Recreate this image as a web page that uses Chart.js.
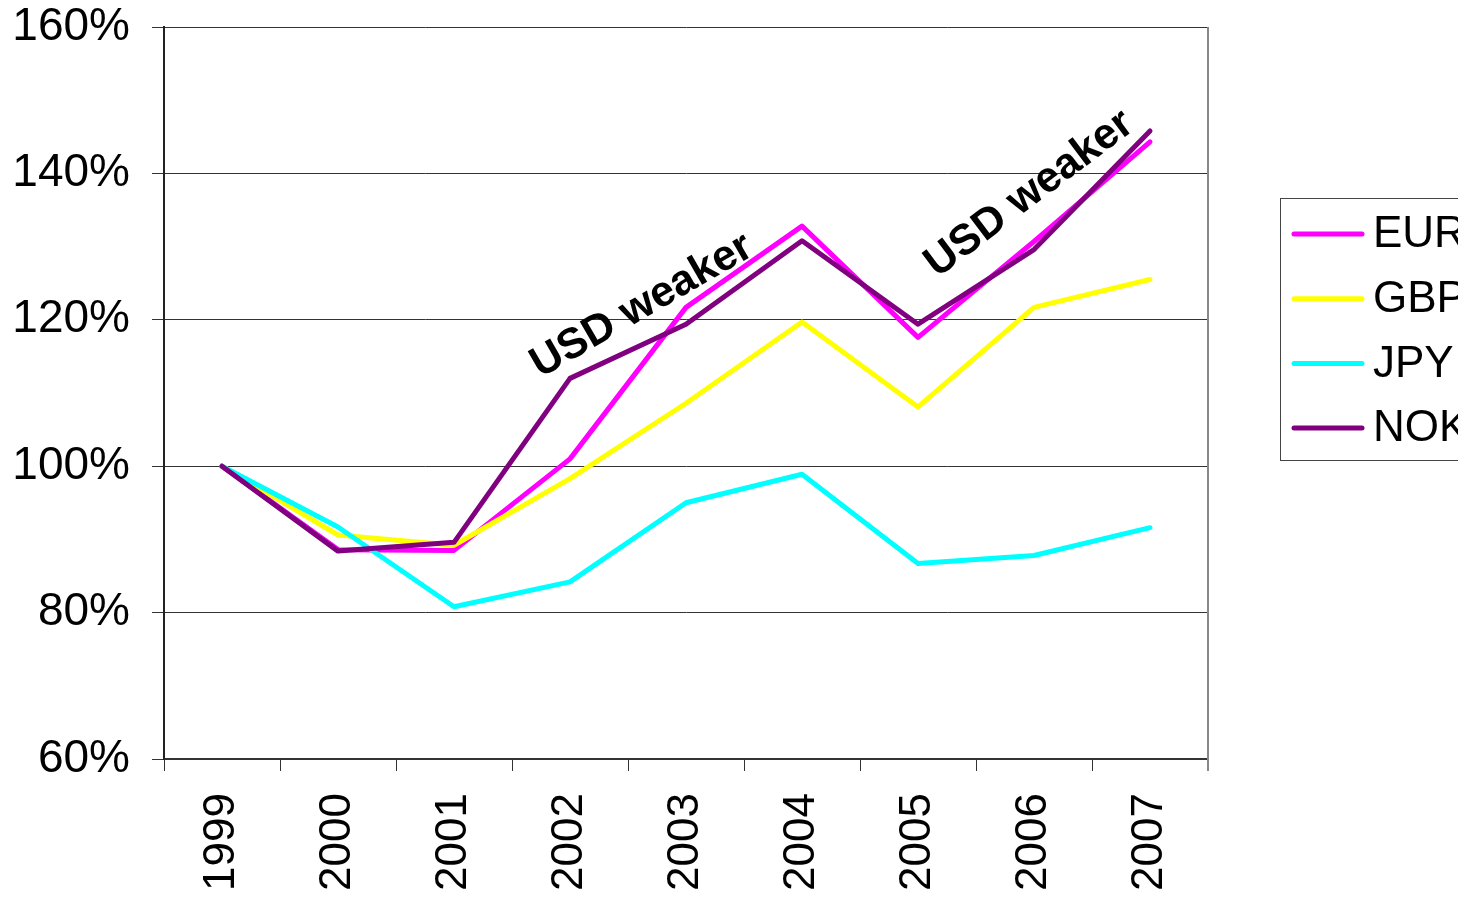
<!DOCTYPE html>
<html>
<head>
<meta charset="utf-8">
<script src="https://cdn.jsdelivr.net/npm/chart.js@4.4.1/dist/chart.umd.min.js"></script>
<style>
  html, body { margin: 0; padding: 0; background: #fff; }
  #wrap { width: 1458px; height: 897px; position: relative; }
</style>
</head>
<body>
<div id="wrap"><canvas id="fxChart"></canvas></div>
<script>
/* currency index vs USD, 1999 = 100% */
const years = ['1999', '2000', '2001', '2002', '2003', '2004', '2005', '2006', '2007'];
const eur = [100, 88.6, 88.5, 101.0, 121.7, 132.8, 117.6, 130.7, 144.3];
const gbp = [100, 90.6, 89.2, 98.3, 108.6, 119.7, 108.1, 121.7, 125.5];
const jpy = [100, 91.7, 80.8, 84.2, 95.0, 98.9, 86.7, 87.8, 91.6];
const nok = [100, 88.4, 89.6, 112.0, 119.4, 130.8, 119.4, 129.6, 145.8];
const yTicks = [60, 80, 100, 120, 140, 160];

// callouts: [text, category position, value, angle in degrees]
const notes = [
    ['USD weaker', 3.62, 121.9, -30],
    ['USD weaker', 6.96, 137.2, -37],
];

const FONT = '"Liberation Sans", Arial, sans-serif';

/* ── callout text plugin ── */
const notesPlugin = {
    id: 'notes',
    afterDatasetsDraw(chart) {
        const { ctx, scales: { x, y } } = chart;
        ctx.save();
        ctx.font = 'bold 43px ' + FONT;
        ctx.fillStyle = '#000';
        ctx.textAlign = 'center';
        ctx.textBaseline = 'middle';
        notes.forEach(([text, xi, v, deg]) => {
            ctx.save();
            ctx.translate(x.getPixelForValue(xi), y.getPixelForValue(v));
            ctx.rotate(deg * Math.PI / 180);
            ctx.fillText(text, 0, 0);
            ctx.restore();
        });
        ctx.restore();
    }
};

/* ── frame right edge + boxed legend ── */
const framePlugin = {
    id: 'frame',
    afterDraw(chart) {
        const { ctx, chartArea: a } = chart;
        ctx.save();
        ctx.strokeStyle = '#888';
        ctx.lineWidth = 2;
        ctx.beginPath();
        ctx.moveTo(a.right, a.top);
        ctx.lineTo(a.right, a.bottom + 12);
        ctx.stroke();

        // legend box
        const bx = 1280, by = 198, bh = 262;
        ctx.strokeStyle = '#444';
        ctx.lineWidth = 1;
        ctx.strokeRect(bx + 0.5, by + 0.5, 300, bh);
        ctx.font = '44px ' + FONT;
        ctx.textBaseline = 'middle';
        ctx.textAlign = 'left';
        chart.data.datasets.forEach((ds, i) => {
            const ly = 234 + i * 64.7;
            ctx.strokeStyle = ds.borderColor;
            ctx.lineWidth = 5;
            ctx.lineCap = 'round';
            ctx.beginPath();
            ctx.moveTo(1294, ly);
            ctx.lineTo(1362, ly);
            ctx.stroke();
            ctx.fillStyle = '#000';
            ctx.fillText(ds.label, 1373, ly + 1);
        });
        ctx.restore();
    }
};

const line = (label, data, color, order) => ({
    label, data, order,
    borderColor: color,
    backgroundColor: color,
    borderWidth: 5,
    pointRadius: 0,
    tension: 0,
    borderJoinStyle: 'round',
    borderCapStyle: 'round',
    fill: false,
});

new Chart(document.getElementById('fxChart').getContext('2d'), {
    type: 'line',
    data: {
        labels: years,
        datasets: [
            line('EUR', eur, '#FF00FF', 3),
            line('GBP', gbp, '#FFFF00', 2),
            line('JPY', jpy, '#00FFFF', 1),
            line('NOK', nok, '#800080', 0),
        ]
    },
    options: {
        responsive: true,
        maintainAspectRatio: false,
        animation: false,
        layout: { padding: { top: 27, right: 250, left: 0, bottom: 0 } },
        plugins: { legend: { display: false }, tooltip: { enabled: false } },
        scales: {
            x: {
                offset: true,
                grid: { offset: true, drawOnChartArea: false, drawTicks: true, tickLength: 12, color: '#333', lineWidth: 1 },
                border: { display: true, color: '#333', width: 2 },
                ticks: { color: '#000', font: { family: FONT, size: 44 }, minRotation: 90, maxRotation: 90, padding: 22 },
                afterFit(scale) {
                    scale.height = 138;
                    scale.paddingLeft = scale.paddingRight = scale.paddingTop = scale.paddingBottom = 0;
                }
            },
            y: {
                min: 60, max: 160,
                afterBuildTicks(scale) { scale.ticks = yTicks.map(v => ({ value: v })); },
                grid: { color: '#333', lineWidth: 1, tickLength: 12 },
                border: { display: true, color: '#222', width: 2 },
                ticks: { color: '#000', font: { family: FONT, size: 46 }, padding: 22, callback: v => v + '%' },
                afterFit(scale) {
                    scale.width = 164;
                    scale.paddingLeft = scale.paddingRight = scale.paddingTop = scale.paddingBottom = 0;
                }
            }
        }
    },
    plugins: [notesPlugin, framePlugin]
});
</script>
</body>
</html>
